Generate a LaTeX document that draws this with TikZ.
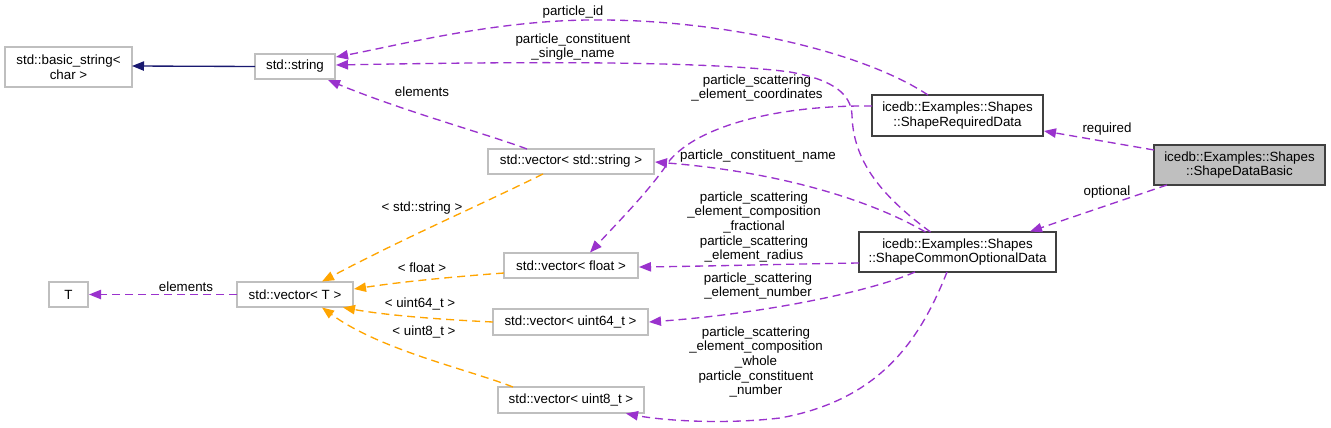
\documentclass[tikz,border=0pt]{standalone}
\usepackage{fontspec}
\setmainfont{Liberation Sans}
\usetikzlibrary{arrows.meta,calc}
\definecolor{edgepurple}{HTML}{9A32CD}
\definecolor{edgeorange}{HTML}{FFA500}
\definecolor{edgenavy}{HTML}{191970}
\definecolor{extgray}{HTML}{BFBFBF}
\definecolor{darkborder}{HTML}{404040}
\definecolor{fillgray}{HTML}{BFBFBF}
\begin{document}
\begin{tikzpicture}[x=0.75pt,y=-0.75pt,
  font=\fontsize{10}{11}\selectfont,
  extbox/.style={draw=extgray, line width=1pt, inner sep=0pt, align=center, fill=white},
  mainbox/.style={draw=darkborder, line width=1.3pt, inner sep=0pt, align=center, fill=white},
  focusbox/.style={mainbox, fill=fillgray},
  tipstyle/.style={-{Triangle[length=9pt,width=7pt]}},
  pedge/.style={tipstyle, draw=edgepurple, line width=1pt, dash pattern=on 6pt off 3.75pt},
  oedge/.style={tipstyle, draw=edgeorange, line width=1pt, dash pattern=on 6pt off 3.75pt},
  nedge/.style={tipstyle, draw=edgenavy, line width=1pt},
  lbl/.style={inner sep=0pt, align=center}]
\fill[white] (0,0) rectangle (1331,428);
\useasboundingbox (0,0) rectangle (1331,428);

% nodes
\node[extbox, minimum width=95.25pt, minimum height=30pt] (bstr) at (68.5,67) {std::basic\_string<\\char >};
\node[extbox, minimum width=60pt, minimum height=18.75pt] (str) at (295,66.5) {std::string};
\node[mainbox, minimum width=128.25pt, minimum height=30.75pt] (req) at (957.5,115.5) {icedb::Examples::Shapes\\::ShapeRequiredData};
\node[focusbox, minimum width=128.25pt, minimum height=30pt] (basic) at (1239.5,165) {icedb::Examples::Shapes\\::ShapeDataBasic};
\node[mainbox, minimum width=147.75pt, minimum height=30pt] (opt) at (957.5,252) {icedb::Examples::Shapes\\::ShapeCommonOptionalData};
\node[extbox, minimum width=124.5pt, minimum height=18.75pt] (vstr) at (571,161.5) {std::vector< std::string >};
\node[extbox, minimum width=100.5pt, minimum height=18.75pt] (vflt) at (571,265.5) {std::vector< float >};
\node[extbox, minimum width=116.25pt, minimum height=19.5pt] (vu64) at (570.5,322) {std::vector< uint64\_t >};
\node[extbox, minimum width=109.5pt, minimum height=19.5pt] (vu8) at (571,400) {std::vector< uint8\_t >};
\node[extbox, minimum width=29.25pt, minimum height=18.75pt] (T) at (68.5,294.5) {T};
\node[extbox, minimum width=87pt, minimum height=18.75pt] (vT) at (295,294.5) {std::vector< T >};

% edges
\draw[nedge] ($(str)+(-40,0)$) -- ($(bstr)+(63.5,-1)$);
\draw[pedge] ($(req)+(-29.5,-20.5)$) .. controls (860,50) and (720,20) .. (600,20)
  .. controls (500,19) and (400,45) .. ($(str)+(41,-9.5)$);
\draw[pedge] ($(opt)+(-27,-20)$) .. controls (880,195) and (853,160) .. (852,115)
  .. controls (851,95) and (835,80) .. (790,72)
  .. controls (700,60) and (500,62) .. ($(str)+(41,-1.5)$);
\draw[pedge] ($(vstr)+(-44,-12.5)$) .. controls (490,135) and (400,110) .. ($(str)+(33,13.5)$);
\draw[pedge] ($(req)+(-85.5,-9.5)$) .. controls (780,105) and (700,125) .. (670,160)
  .. controls (650,190) and (620,220) .. ($(vflt)+(19,-13)$);
\draw[pedge] ($(opt)+(-32,-20)$) .. controls (870,200) and (780,172) .. ($(vstr)+(84,0.5)$);
\draw[pedge] ($(opt)+(-98.5,11)$) .. controls (790,264) and (720,266) .. ($(vflt)+(68,1.5)$);
\draw[pedge] ($(opt)+(-42.5,20)$) .. controls (870,292) and (760,314) .. ($(vu64)+(78.5,0)$);
\draw[pedge] ($(opt)+(-10.5,20)$) .. controls (920,340) and (880,400) .. (780,418)
  .. controls (720,425) and (660,420) .. ($(vu8)+(55,13.5)$);
\draw[pedge] ($(basic)+(-85.5,-15)$) -- ($(req)+(86.5,15.5)$);
\draw[pedge] ($(basic)+(-72.5,20)$) -- ($(opt)+(72.5,-20.5)$);
\draw[oedge] ($(vstr)+(-28,12.5)$) .. controls (480,205) and (400,240) .. ($(vT)+(27,-13)$);
\draw[oedge] ($(vflt)+(-67,7.5)$) .. controls (450,277) and (400,282) .. ($(vT)+(59,-5.5)$);
\draw[oedge] ($(vu64)+(-77.5,0)$) .. controls (450,320) and (390,316) .. ($(vT)+(48,13)$);
\draw[oedge] ($(vu8)+(-58,-13)$) .. controls (470,370) and (380,350) .. ($(vT)+(27,13)$);
\draw[pedge] ($(vT)+(-58,0)$) -- ($(T)+(20.5,0)$);

% labels
\node[lbl] (l1) at (573,12) {particle\_id};
\node[lbl] (l2) at (573,47) {particle\_constituent\\\_single\_name};
\node[lbl] (l3) at (422,92) {elements};
\node[lbl] (l4) at (757,88) {particle\_scattering\\\_element\_coordinates};
\node[lbl] (l5) at (758,156) {particle\_constituent\_name};
\node[lbl] (l6) at (754,227) {particle\_scattering\\\_element\_composition\\\_fractional\\particle\_scattering\\\_element\_radius};
\node[lbl] (l7) at (758,286) {particle\_scattering\\\_element\_number};
\node[lbl] (l8) at (756,362) {particle\_scattering\\\_element\_composition\\\_whole\\particle\_constituent\\\_number};
\node[lbl] (l9) at (1107,129) {required};
\node[lbl] (l10) at (1107,192) {optional};
\node[lbl] (l11) at (422,208) {< std::string >};
\node[lbl] (l12) at (422,268) {< float >};
\node[lbl] (l13) at (420,304) {< uint64\_t >};
\node[lbl] (l14) at (424,332) {< uint8\_t >};
\node[lbl] (l15) at (186,287) {elements};
\end{tikzpicture}
\end{document}
